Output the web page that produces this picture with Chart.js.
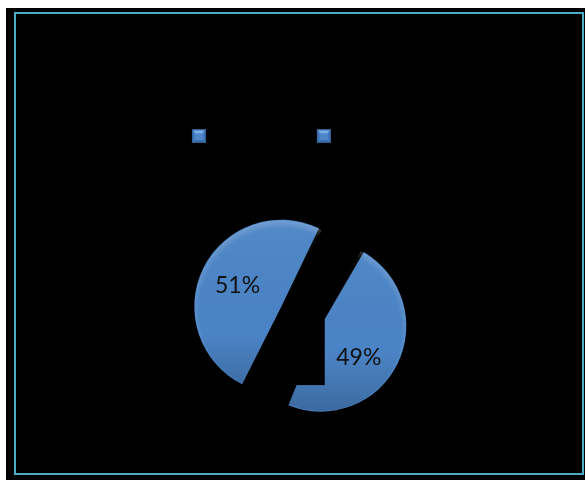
<!DOCTYPE html>
<html>
<head>
<meta charset="utf-8">
<title>Pie</title>
<script src="https://cdn.jsdelivr.net/npm/chart.js@4/dist/chart.umd.min.js"></script>
<style>
  html, body { margin: 0; padding: 0; background: #fff; overflow: hidden; }
  #wrap { position: relative; width: 585px; height: 480px; }
  #backdrop { position: absolute; left: 6px; top: 8px; width: 579px; height: 472px; background: #000; }
  #frame { position: absolute; left: 14px; top: 12px; width: 566px; height: 459px; border: 2px solid #4bacc6; }
  #chart { position: absolute; left: 0; top: 0; }
</style>
</head>
<body>
<div id="wrap">
  <div id="backdrop"></div>
  <div id="frame"></div>
  <canvas id="chart" width="585" height="480"></canvas>
</div>
<script>
// data
const categories = ["Female students", "Male students"];
const shares = [49, 51];

const sliceBlue = "#4b84c6";

// small bevelled square used as the legend key (with a little left margin)
function legendIcon(size, margin) {
  const c = document.createElement("canvas");
  c.width = size + margin;
  c.height = size;
  const g = c.getContext("2d");
  g.translate(margin, 0);
  const m = size / 2;
  g.fillStyle = "#2f5f96";
  g.fillRect(0, 0, size, size);
  // side faces
  g.fillStyle = "#4278b8";
  g.fillRect(1, 1, size - 2, size - 2);
  // bottom face, darker
  g.fillStyle = "#36679f";
  g.beginPath();
  g.moveTo(1, size - 1); g.lineTo(size - 1, size - 1); g.lineTo(m, m); g.closePath();
  g.fill();
  // top face, lighter
  g.fillStyle = "#7aaee6";
  g.beginPath();
  g.moveTo(1, 1); g.lineTo(size - 1, 1); g.lineTo(m, m + 1); g.closePath();
  g.fill();
  // flat centre
  g.fillStyle = "#4d87ca";
  g.fillRect(3, 4, size - 6, size - 7);
  return c;
}
const keyIcon = legendIcon(14, 6);

// where Chart.js really draws an exploded arc (same maths as ArcElement.draw):
// moved by offset/4 along its middle angle, radius grown by offset/4 * fix
function arcGeometry(arc) {
  const p = arc.getProps(["x", "y", "startAngle", "endAngle", "outerRadius"], true);
  const mid = (p.startAngle + p.endAngle) / 2;
  const off = (arc.options.offset || 0) / 4;
  const fix = 1 - Math.sin(Math.min(Math.PI, p.endAngle - p.startAngle));
  return {
    cx: p.x + Math.cos(mid) * off,
    cy: p.y + Math.sin(mid) * off,
    r: p.outerRadius + off * fix,
    start: p.startAngle,
    end: p.endAngle,
    mid: mid
  };
}

// soft bevel: light rim on the upper edge, darker towards the bottom
const sliceShading = {
  id: "sliceShading",
  afterDatasetDraw(chart) {
    const ctx = chart.ctx;
    chart.getDatasetMeta(0).data.forEach(function (arc) {
      const g = arcGeometry(arc);
      ctx.save();
      ctx.beginPath();
      ctx.moveTo(g.cx, g.cy);
      ctx.arc(g.cx, g.cy, g.r - 0.5, g.start, g.end);
      ctx.closePath();
      ctx.clip();

      const rim = ctx.createRadialGradient(g.cx, g.cy + 4, 0, g.cx, g.cy + 4, g.r + 4);
      rim.addColorStop(0, "rgba(255,255,255,0)");
      rim.addColorStop(0.9, "rgba(255,255,255,0)");
      rim.addColorStop(1, "rgba(255,255,255,0.2)");
      ctx.fillStyle = rim;
      ctx.fill();

      const shade = ctx.createLinearGradient(0, g.cy - g.r, 0, g.cy + g.r);
      shade.addColorStop(0, "rgba(255,255,255,0.05)");
      shade.addColorStop(0.65, "rgba(0,0,0,0)");
      shade.addColorStop(1, "rgba(0,0,0,0.2)");
      ctx.fillStyle = shade;
      ctx.fill();
      ctx.restore();
    });
  }
};

// black notch cut into the smaller slice, then the percentage labels
const sliceLabels = {
  id: "sliceLabels",
  afterDatasetsDraw(chart) {
    const ctx = chart.ctx;
    const arcs = chart.getDatasetMeta(0).data;

    const first = arcGeometry(arcs[0]);
    ctx.save();
    ctx.fillStyle = "#000";
    ctx.fillRect(first.cx - 36, first.cy - 9, 40, 68);
    ctx.restore();

    ctx.save();
    ctx.font = "23px Lato";
    ctx.fillStyle = "#111";
    ctx.textAlign = "center";
    ctx.textBaseline = "middle";
    arcs.forEach(function (arc, i) {
      const g = arcGeometry(arc);
      const d = g.r * 0.56;
      // the notch pushes the smaller slice's label a little lower
      const dx = i === 0 ? -5 : 0;
      const dy = i === 0 ? 10 : 0;
      ctx.fillText(shares[i] + "%", g.cx + Math.cos(g.mid) * d + dx, g.cy + Math.sin(g.mid) * d + dy);
    });
    ctx.restore();
  }
};

new Chart(document.getElementById("chart"), {
  type: "pie",
  data: {
    labels: categories,
    datasets: [
      {
        data: shares,
        backgroundColor: sliceBlue,
        borderWidth: 0,
        offset: 88
      }
    ]
  },
  options: {
    responsive: false,
    animation: false,
    rotation: 28,
    radius: 65,
    layout: {
      padding: { left: 17, right: 0, top: 118, bottom: 0 }
    },
    plugins: {
      legend: {
        position: "top",
        labels: {
          usePointStyle: true,
          padding: 12,
          color: "#000",
          font: { family: "Liberation Sans", size: 12.7 },
          generateLabels: function (chart) {
            return chart.data.labels.map(function (text, i) {
              return {
                text: text,
                fillStyle: sliceBlue,
                strokeStyle: sliceBlue,
                fontColor: "#000",
                pointStyle: keyIcon,
                lineWidth: 0,
                hidden: false,
                index: i
              };
            });
          }
        }
      },
      tooltip: { enabled: false }
    }
  },
  plugins: [sliceShading, sliceLabels]
});
</script>
</body>
</html>
